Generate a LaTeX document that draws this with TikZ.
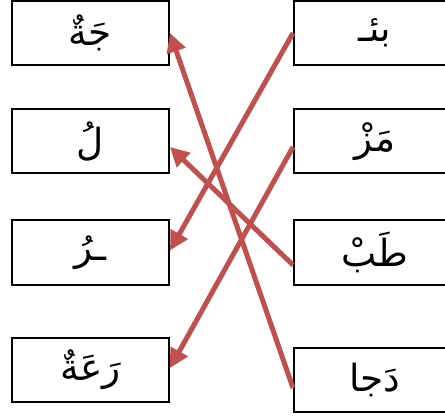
\documentclass[tikz,border=0pt]{standalone}
\usepackage{fontspec}
\TeXXeTstate=1
\newfontfamily\arabicfont[Script=Arabic,Scale=1.7]{DejaVu Sans}
\usetikzlibrary{arrows.meta}
\definecolor{linkred}{RGB}{192,80,77}
\tikzset{
  box/.style={draw=black, line width=2pt, rectangle, minimum width=157pt, minimum height=64pt, inner sep=0pt, font=\fontsize{22}{26}\selectfont\arabicfont},
  rbox/.style={box, minimum width=162pt},
  link/.style={draw=linkred, line width=5pt, -{Triangle[length=19pt,width=19pt]}}
}
\begin{document}
\begin{tikzpicture}[x=1pt,y=-1pt]
\useasboundingbox (0,0) rectangle (445,417);
\clip (0,0) rectangle (445,417);
\node[box] (l1) at (90.5,33) {\beginR جَةٌ\endR};
\node[box] (l2) at (90.5,141.5) {\beginR لُ\endR};
\node[box] (l3) at (90.5,252.5) {\beginR ـرُ\endR};
\node[box] (l4) at (90.5,370) {\beginR رَعَةٌ\endR};
\node[rbox] (r1) at (375,33) {\beginR بئـ\endR};
\node[rbox] (r2) at (375,141.5) {\beginR مَزْ\endR};
\node[rbox] (r3) at (375,252.5) {\beginR طَبْ\endR};
\node[rbox] (r4) at (375,380) {\beginR دَجا\endR};
\draw[link] (r1.west) -- ([yshift=2pt]l3.east);
\draw[link] ([yshift=-5.5pt]r2.west) -- ([yshift=2pt]l4.east);
\draw[link] ([yshift=-12.5pt]r3.west) -- ([yshift=-5.5pt]l2.east);
\draw[link] ([yshift=-8pt]r4.west) -- (l1.east);
\end{tikzpicture}
\end{document}
